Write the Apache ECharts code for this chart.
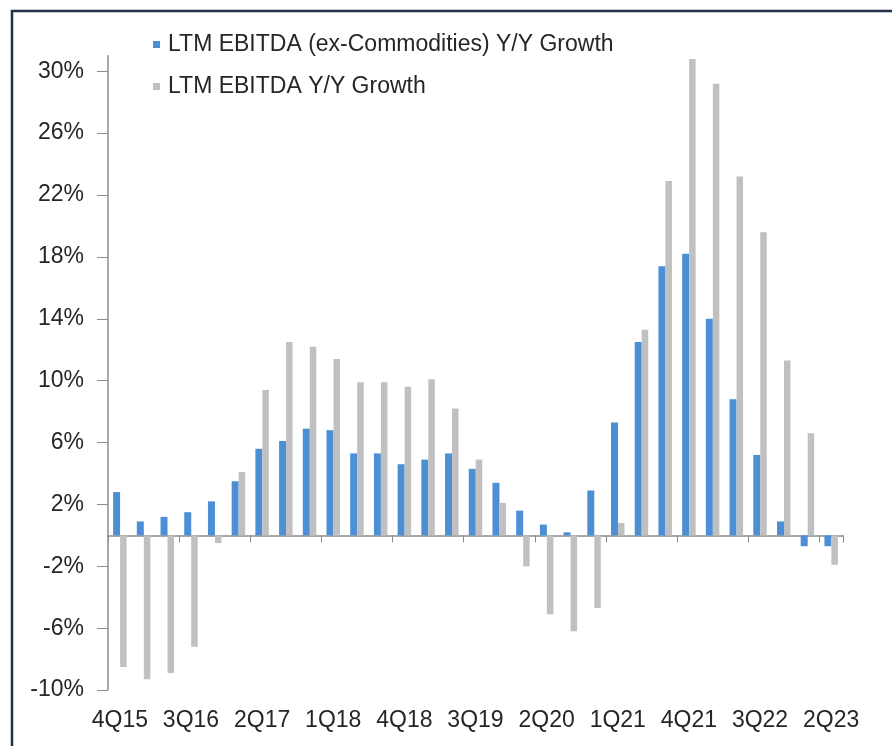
<!DOCTYPE html>
<html>
<head>
<meta charset="utf-8">
<script src="https://cdn.jsdelivr.net/npm/echarts@6/dist/echarts.min.js"></script>
<style>
  html, body { margin: 0; padding: 0; background: #ffffff; }
  #chart { width: 892px; height: 746px; }
</style>
</head>
<body>
<div id="chart"></div>
<script>
// Quarterly periods, 4Q15 through 2Q23
const quarters = [
  '4Q15', '1Q16', '2Q16', '3Q16', '4Q16', '1Q17', '2Q17', '3Q17', '4Q17',
  '1Q18', '2Q18', '3Q18', '4Q18', '1Q19', '2Q19', '3Q19', '4Q19',
  '1Q20', '2Q20', '3Q20', '4Q20', '1Q21', '2Q21', '3Q21', '4Q21',
  '1Q22', '2Q22', '3Q22', '4Q22', '1Q23', '2Q23'
];

// LTM EBITDA growth excluding commodity sectors, % Y/Y
const exCommodities = [
  2.8, 0.9, 1.2, 1.5, 2.2, 3.5, 5.6, 6.1, 6.9,
  6.8, 5.3, 5.3, 4.6, 4.9, 5.3, 4.3, 3.4,
  1.6, 0.7, 0.2, 2.9, 7.3, 12.5, 17.4, 18.2,
  14.0, 8.8, 5.2, 0.9, -0.7, -0.7
];

// LTM EBITDA growth, all sectors, % Y/Y
const allSectors = [
  -8.5, -9.3, -8.9, -7.2, -0.5, 4.1, 9.4, 12.5, 12.2,
  11.4, 9.9, 9.9, 9.6, 10.1, 8.2, 4.9, 2.1,
  -2.0, -5.1, -6.2, -4.7, 0.8, 13.3, 22.9, 30.8,
  29.2, 23.2, 19.6, 11.3, 6.6, -1.9
];

// Labelled percentage ticks on the value axis
const percentTicks = [-10, -6, -2, 2, 6, 10, 14, 18, 22, 26, 30];

const seriesNames = ['LTM EBITDA (ex-Commodities) Y/Y Growth', 'LTM EBITDA Y/Y Growth'];

const FONT = '"Liberation Sans", Arial, sans-serif';
const TEXT = '#262626';
const AXIS = '#8c8c8c';

const chart = echarts.init(document.getElementById('chart'), null, { renderer: 'canvas' });

chart.setOption({
  animation: false,
  backgroundColor: '#ffffff',
  textStyle: { fontFamily: FONT },
  graphic: [{
    type: 'rect',
    shape: { x: 12, y: 11, width: 1000, height: 900 },
    style: { fill: 'none', stroke: '#223248', lineWidth: 2.5 },
    silent: true,
    z: 100
  }],
  legend: {
    orient: 'vertical',
    left: 148,
    top: 28,
    itemWidth: 7,
    itemHeight: 7,
    itemGap: 19,
    icon: 'rect',
    textStyle: { color: TEXT, fontSize: 23, fontFamily: FONT, padding: [0, 0, 0, 3] },
    data: seriesNames
  },
  grid: {
    left: 108,
    right: 49,
    top: 55.8,
    bottom: 55.9,
    containLabel: false
  },
  xAxis: [
    {
      // zero line with tick marks every third quarter
      type: 'category',
      data: quarters,
      position: 'top',
      boundaryGap: true,
      axisLine: { show: true, onZero: true, lineStyle: { color: AXIS, width: 1.5 } },
      axisTick: { show: true, inside: true, interval: 2, length: 7, lineStyle: { color: AXIS, width: 1 } },
      axisLabel: { show: false },
      splitLine: { show: false }
    },
    {
      // quarter labels along the bottom edge
      type: 'category',
      data: quarters,
      position: 'bottom',
      boundaryGap: true,
      axisLine: { show: false },
      axisTick: { show: false },
      axisLabel: { show: true, interval: 2, margin: 19, color: TEXT, fontSize: 23, fontFamily: FONT },
      splitLine: { show: false }
    }
  ],
  yAxis: {
    type: 'value',
    min: -10,
    max: 31,
    axisLine: { show: true, lineStyle: { color: AXIS, width: 1.5 } },
    axisTick: { show: true, length: 11, customValues: percentTicks, lineStyle: { color: AXIS, width: 1 } },
    axisLabel: {
      show: true,
      customValues: percentTicks,
      margin: 24,
      color: TEXT,
      fontSize: 23,
      fontFamily: FONT,
      formatter: '{value}%'
    },
    splitLine: { show: false }
  },
  series: [
    {
      name: seriesNames[0],
      type: 'bar',
      xAxisIndex: 0,
      data: exCommodities,
      barWidth: 7,
      barGap: '0%',
      itemStyle: { color: '#4d8fd5' }
    },
    {
      name: seriesNames[1],
      type: 'bar',
      xAxisIndex: 0,
      data: allSectors,
      barWidth: 6.5,
      barGap: '0%',
      itemStyle: { color: '#c0c0c0' }
    }
  ]
});
</script>
</body>
</html>
